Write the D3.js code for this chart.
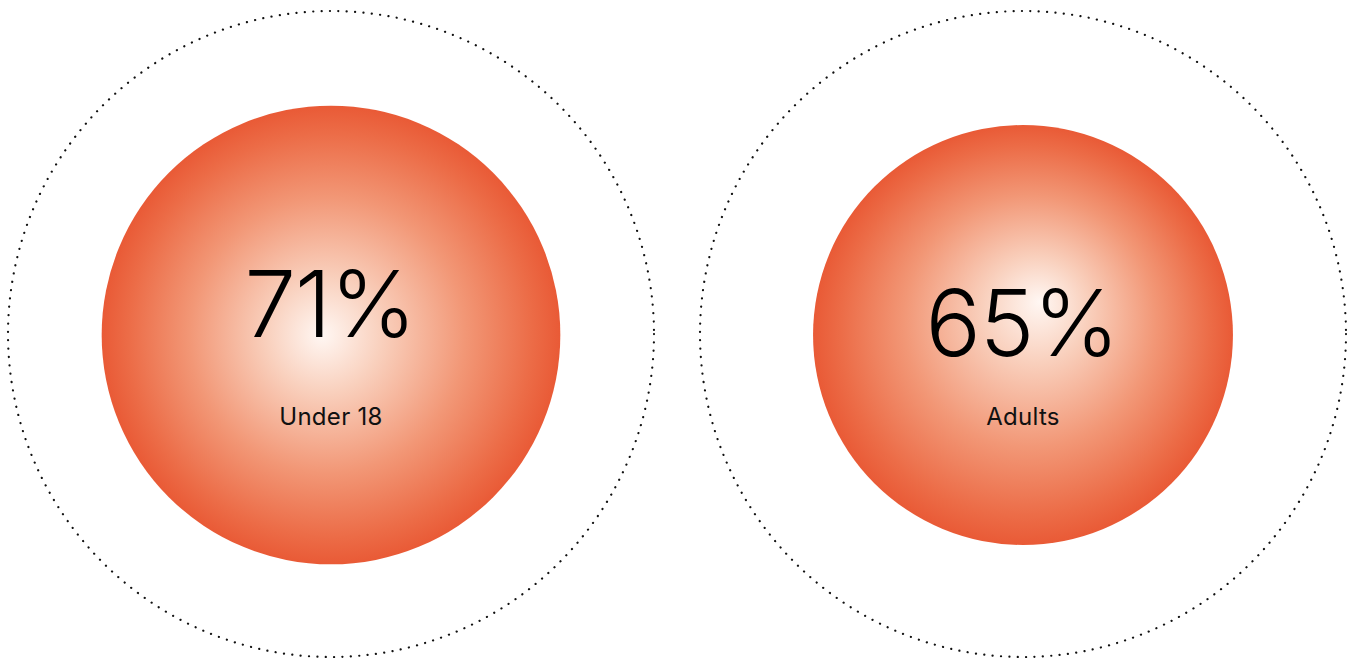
<!DOCTYPE html>
<html>
<head>
<meta charset="utf-8">
<script src="https://cdn.jsdelivr.net/npm/d3@7"></script>
<title>Share by age group</title>
<style>
  body { margin: 0; background: #fff; }
</style>
</head>
<body>
<div id="chart"></div>
<script>
// data
var groups = ["Under 18", "Adults"];
var values = [71, 65];
var maxValue = 100;

(function(){

var w = 1364, h = 658;
var cy = 334;

var svg = d3.select("#chart").append("svg")
  .attr("width", w).attr("height", h);

var x = d3.scalePoint().domain(groups).range([331, 1023]);
var r = d3.scaleLinear().domain([0, maxValue]).range([0, 323]);

var defs = svg.append("defs");
var grad = defs.selectAll("radialGradient")
  .data(groups).enter().append("radialGradient")
  .attr("id", function(d, i) { return "g" + i; })
  .attr("cx", "50%").attr("cy", "50%").attr("r", "50%")
  .attr("fx", function(d, i) { return i == 0 ? "48%" : "54%"; })
  .attr("fy", function(d, i) { return i == 0 ? "50%" : "42%"; });
var stops = [[0, "#fff7f3"], [0.25, "#f9d0bd"], [0.6, "#f29776"], [0.88, "#ec6c47"], [1, "#e95a36"]];
grad.each(function() {
  var g = d3.select(this);
  stops.forEach(function(s) {
    g.append("stop").attr("offset", s[0]).attr("stop-color", s[1]);
  });
});

var item = svg.selectAll("g.item")
  .data(groups).enter().append("g").attr("class", "item");

// full 100% outline
item.append("circle")
  .attr("cx", function(d) { return x(d); })
  .attr("cy", cy)
  .attr("r", r(maxValue))
  .attr("fill", "none")
  .attr("stroke", "#111")
  .attr("stroke-width", 2.2)
  .attr("stroke-linecap", "round")
  .attr("stroke-dasharray", "0.1,8.3");

item.append("circle")
  .attr("cx", function(d) { return x(d); })
  .attr("cy", cy + 1)
  .attr("r", function(d, i) { return r(values[i]); })
  .attr("fill", function(d, i) { return "url(#g" + i + ")"; });

item.append("text")
  .attr("x", function(d) { return x(d) - 1; })
  .attr("y", function(d, i) { return cy + 1 - r(values[i]) + 231; })
  .attr("text-anchor", "middle")
  .attr("font-family", "Inter, sans-serif")
  .attr("font-weight", 300)
  .attr("font-size", 92)
  .attr("letter-spacing", -1)
  .attr("fill", "#000")
  .text(function(d, i) { return values[i] + "%"; });

item.append("text")
  .attr("x", function(d) { return x(d); })
  .attr("y", 425)
  .attr("text-anchor", "middle")
  .attr("font-family", "Inter, sans-serif")
  .attr("font-weight", 400)
  .attr("font-size", 24)
  .attr("letter-spacing", 0.3)
  .attr("fill", "#111")
  .text(function(d) { return d; });

})();
</script>
</body>
</html>
